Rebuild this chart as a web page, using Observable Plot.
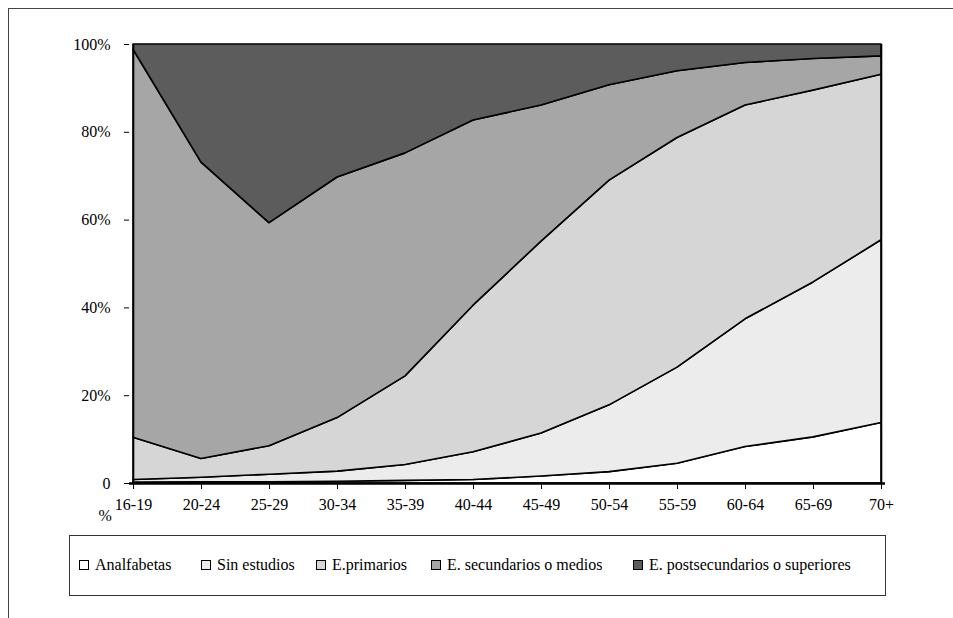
<!DOCTYPE html>
<html>
<head>
<meta charset="utf-8">
<script src="https://cdn.jsdelivr.net/npm/d3@7"></script>
<script src="https://cdn.jsdelivr.net/npm/@observablehq/plot@0.6"></script>
<style>
  body { margin: 0; background: #fff; font-family: "Liberation Serif", "Times New Roman", Times, "DejaVu Serif", serif; }
  #page { position: relative; width: 953px; height: 618px; overflow: hidden; background: #fff; }
  #border { position: absolute; left: 8px; top: 8px; width: 960px; height: 620px;
            border-top: 1.5px solid #444; border-left: 1.5px solid #444; }
  #chart { position: absolute; left: 0; top: 0; }
  #chart svg, #chart text { font-family: "Liberation Serif", "Times New Roman", Times, "DejaVu Serif", serif; }
  #legend { position: absolute; left: 69px; top: 535px; width: 817px; height: 61px;
            border: 1.5px solid #333; box-sizing: border-box; }
  .item { position: absolute; top: 20px; display: flex; align-items: center;
          font-size: 16px; line-height: 18px; color: #000; white-space: nowrap; }
  .swatch { width: 10px; height: 10px; border: 1px solid #000; box-sizing: border-box; margin-right: 6px; }
</style>
</head>
<body>
<div id="page">
  <div id="border"></div>
  <div id="chart"></div>
  <div id="legend"></div>
</div>
<script>
// Age groups on the horizontal axis
const ages = ["16-19", "20-24", "25-29", "30-34", "35-39", "40-44", "45-49", "50-54", "55-59", "60-64", "65-69", "70+"];

// Education levels, bottom to top of the stack
const series = ["Analfabetas", "Sin estudios", "E.primarios", "E. secundarios o medios", "E. postsecundarios o superiores"];
const colors = ["#ffffff", "#ececec", "#d6d6d6", "#a6a6a6", "#5c5c5c"];

// Share of each age group (%) by education level
const analfabetas    = [0.2, 0.3, 0.3, 0.4, 0.6, 0.8, 1.6, 2.6, 4.5, 8.3, 10.5, 13.8];
const sinEstudios    = [0.6, 1.0, 1.7, 2.3, 3.6, 6.3, 9.8, 15.2, 21.9, 29.1, 35.3, 41.6];
const primarios      = [9.6, 4.3, 6.5, 12.2, 20.2, 33.4, 43.7, 51.2, 52.3, 48.7, 43.7, 37.7];
const secundarios    = [88.4, 67.5, 50.8, 54.8, 50.8, 42.2, 31.0, 21.7, 15.2, 9.7, 7.2, 4.2];
const postsecundarios = [1.2, 26.9, 40.7, 30.3, 24.8, 17.3, 13.9, 9.3, 6.1, 4.2, 3.3, 2.7];

// Y axis ticks and their labels
const yTicks = [0, 20, 40, 60, 80, 100];
const yTickLabels = ["0", "20%", "40%", "60%", "80%", "100%"];

const valuesBySeries = [analfabetas, sinEstudios, primarios, secundarios, postsecundarios];
const rows = series.flatMap((nivel, i) =>
  ages.map((age, j) => ({ age, nivel, pct: valuesBySeries[i][j] }))
);

const serif = "'Liberation Serif', 'Times New Roman', Times, 'DejaVu Serif', serif";

const chart = Plot.plot({
  width: 953,
  height: 530,
  marginLeft: 129,
  marginRight: 68,
  marginTop: 44,
  marginBottom: 47,
  style: { fontFamily: serif, fontSize: "16px", color: "#000", background: "transparent" },
  x: { type: "point", domain: ages, padding: 0, label: null },
  y: { domain: [0, 100], label: null },
  color: { domain: series, range: colors },
  marks: [
    Plot.areaY(rows, Plot.stackY({ order: series }, {
      x: "age", y: "pct", z: "nivel", fill: "nivel",
      stroke: "#000", strokeWidth: 1.6, strokeLinejoin: "round"
    })),
    Plot.ruleX([ages[0], ages[ages.length - 1]], { stroke: "#000", strokeWidth: 1.6 }),
    Plot.ruleY([0], { stroke: "#000", strokeWidth: 2.6 }),
    Plot.axisY({
      ticks: yTicks, tickSize: 5, tickPadding: 14, label: null, fontSize: 16,
      tickFormat: d => yTickLabels[yTicks.indexOf(d)]
    }),
    Plot.axisX({ tickSize: 6, tickPadding: 9, label: null, fontSize: 16 }),
    Plot.text(["%"], { text: d => d, frameAnchor: "bottom-left", dx: -31, dy: 37, fontSize: 16 })
  ]
});
document.getElementById("chart").appendChild(chart);

// Legend
const legendLeft = [9, 131, 246, 361, 563];
const legend = document.getElementById("legend");
series.forEach((name, i) => {
  const item = document.createElement("div");
  item.className = "item";
  item.style.left = legendLeft[i] + "px";
  const sw = document.createElement("span");
  sw.className = "swatch";
  sw.style.background = colors[i];
  const label = document.createElement("span");
  label.textContent = name;
  item.appendChild(sw);
  item.appendChild(label);
  legend.appendChild(item);
});
</script>
</body>
</html>
